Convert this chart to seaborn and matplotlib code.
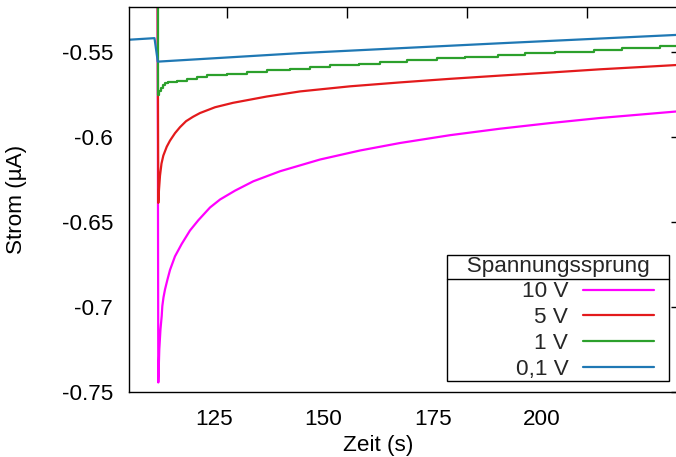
import matplotlib
matplotlib.use("Agg")
import matplotlib.pyplot as plt
import seaborn as sns
import numpy as np
from matplotlib.legend_handler import HandlerLine2D
from matplotlib.lines import Line2D

# ---------------- data ----------------
labels = ["10 V", "5 V", "1 V", "0,1 V"]
colors = ["#ff00ff", "#e31a1c", "#2ca02c", "#1f78b4"]

t_10V = [112.0, 112.17, 112.40, 112.67, 112.95, 113.09, 113.36, 113.71, 114.28, 114.85,
         115.99, 117.53, 119.43, 121.33, 124.01, 126.31, 129.74, 133.93, 140.05, 149.22,
         158.38, 167.54, 179.0, 190.45, 201.91, 213.36, 222.52, 232.14]
i_10V = [-0.50, -0.7444, -0.7249, -0.7131, -0.7053, -0.6995, -0.6944, -0.6897, -0.6838, -0.6783,
         -0.6703, -0.6630, -0.6551, -0.6491, -0.6416, -0.6369, -0.6317, -0.6262, -0.6203, -0.6134,
         -0.6081, -0.6037, -0.5991, -0.5953, -0.5920, -0.5890, -0.5870, -0.5849]

t_5V = [112.0, 112.17, 112.33, 112.56, 112.90, 113.32, 114.10, 114.85, 116.0, 117.14,
        118.52, 120.12, 121.72, 125.16, 129.28, 137.0, 144.63, 156.09, 167.54, 179.0,
        190.45, 201.9, 213.36, 222.52, 232.14]
i_5V = [-0.50, -0.6389, -0.6311, -0.6229, -0.6158, -0.6111, -0.6059, -0.6023, -0.5979, -0.5944,
        -0.5909, -0.5883, -0.5861, -0.5827, -0.5801, -0.5764, -0.5734, -0.5704, -0.5681, -0.5660,
        -0.5641, -0.5623, -0.5604, -0.5591, -0.5577]

t_1V = [112.0, 112.1, 112.4, 112.8, 113.3, 113.8, 114.3, 116.39, 118.68, 120.97,
        123.26, 127.84, 132.42, 137.0, 142.34, 146.92, 151.5, 158.14, 162.95, 169.14,
        176.01, 182.42, 189.99, 196.17, 203.04, 211.98, 218.39, 227.1, 232.5]
i_1V = [-0.50, -0.5754, -0.5730, -0.5712, -0.5697, -0.5686, -0.568, -0.567, -0.566, -0.565,
        -0.564, -0.563, -0.562, -0.561, -0.560, -0.559, -0.558, -0.557, -0.556, -0.555,
        -0.554, -0.553, -0.552, -0.551, -0.550, -0.549, -0.548, -0.547, -0.547]

t_01V = [105.0, 111.3, 112.05, 144.6, 190.5, 232.5]
i_01V = [-0.5431, -0.5421, -0.5559, -0.5509, -0.5451, -0.5400]

x_ticks = [125, 150, 175, 200]
x_top_ticks = [127.84, 155.33, 182.82, 210.31]
y_ticks = [-0.75, -0.7, -0.65, -0.6, -0.55]
y_ticklabels = ["-0.75", "-0.7", "-0.65", "-0.6", "-0.55"]

# ---------------- style ----------------
sns.set_theme(style="white")
plt.rcParams["font.family"] = ["Liberation Sans", "DejaVu Sans"]
plt.rcParams["axes.unicode_minus"] = False
FS = 16.2

W, H = 676, 457
fig = plt.figure(figsize=(W / 100, H / 100), dpi=100)
L, R, T, B = 129, 682, 7, 392
ax = fig.add_axes([L / W, 1 - B / H, (R - L) / W, (B - T) / H])

series = [(t_10V, i_10V, None), (t_5V, i_5V, None), (t_1V, i_1V, "steps-post"), (t_01V, i_01V, None)]
for (tt, ii, ds), lab, col in zip(series, labels, colors):
    kw = {}
    if ds:
        kw["drawstyle"] = ds
    sns.lineplot(x=tt, y=ii, ax=ax, color=col, linewidth=1.6, label=lab,
                 estimator=None, sort=False, legend=False, **kw)

ax.set_xlim(105.46, 232.1)
ax.set_ylim(-0.75, -0.5238)
ax.set_xticks(x_ticks)
ax.set_xticklabels([str(v) for v in x_ticks])
ax.set_yticks(y_ticks)
ax.set_yticklabels(y_ticklabels)

for s in ax.spines.values():
    s.set_color("black")
    s.set_linewidth(1.0)

ax.tick_params(axis="both", direction="in", length=7.6, width=1.0, colors="black",
               top=False, right=True, labelsize=FS)
ax.tick_params(axis="y", pad=11.5)
ax.tick_params(axis="x", pad=12.5)

sec = ax.secondary_xaxis("top")
sec.set_xticks(x_top_ticks)
sec.tick_params(axis="x", direction="in", length=7.6, width=1.0, colors="black",
                labeltop=False)
sec.spines["top"].set_visible(False)

ax.set_xlabel("Zeit (s)", fontsize=FS, color="black")
ax.set_ylabel("Strom (µA)", fontsize=FS, color="black")
ax.xaxis.set_label_coords((378 - L) / (R - L), -(446 - B) / (B - T), transform=ax.transAxes)
ax.xaxis.label.set_va("center")
ax.yaxis.set_label_coords(-(L - 17) / (R - L), 0.5, transform=ax.transAxes)
ax.yaxis.label.set_va("center")


class ShortLine(HandlerLine2D):
    def create_artists(self, legend, orig_handle, xdescent, ydescent, width, height, fontsize, trans):
        return super().create_artists(legend, orig_handle, xdescent, ydescent,
                                      width * 0.837, height, fontsize, trans)


handles = [Line2D([], [], color=c, linewidth=1.6) for c in colors]
leg = ax.legend(handles, labels, title="   Spannungssprung   ",
                loc="lower right", bbox_to_anchor=(669.3 / W, 1 - 380.7 / H),
                bbox_transform=fig.transFigure, borderaxespad=0, borderpad=0.05,
                fontsize=FS, title_fontsize=FS, markerfirst=False, alignment="right",
                handlelength=3.8, handletextpad=0.64, labelspacing=0.21,
                fancybox=False, framealpha=1, edgecolor="black",
                handler_map={Line2D: ShortLine()})
leg.get_frame().set_linewidth(1.0)

fig.canvas.draw()
rend = fig.canvas.get_renderer()
fb = leg.get_frame().get_window_extent(rend)
tb = leg._legend_title_box.get_window_extent(rend)
hb = leg._legend_handle_box.get_window_extent(rend)
ysep = (tb.y0 + hb.y1) / 2
inv = fig.transFigure.inverted()
p0 = inv.transform((fb.x0, ysep))
p1 = inv.transform((fb.x1, ysep))
fig.add_artist(Line2D([p0[0], p1[0]], [p0[1], p1[1]], transform=fig.transFigure,
                      color="black", linewidth=1.0, zorder=10))

fig.savefig("out.png", dpi=100)
